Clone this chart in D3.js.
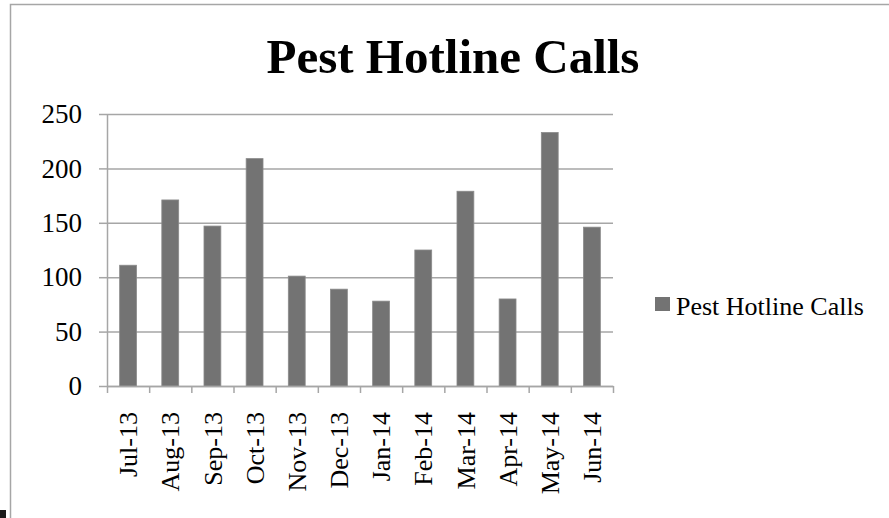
<!DOCTYPE html>
<html>
<head>
<meta charset="utf-8">
<script src="https://cdn.jsdelivr.net/npm/d3@7"></script>
<style>
  body { margin: 0; background: #fff; }
  text { font-family: "Liberation Serif", serif; fill: #000; }
</style>
</head>
<body>
<script>
const months = ['Jul-13', 'Aug-13', 'Sep-13', 'Oct-13', 'Nov-13', 'Dec-13',
  'Jan-14', 'Feb-14', 'Mar-14', 'Apr-14', 'May-14', 'Jun-14']
const calls = [111, 171, 147, 209, 101, 89, 78, 125, 179, 80, 233, 146]
const yTicks = [0, 50, 100, 150, 200, 250]
const seriesName = 'Pest Hotline Calls'

const w = 889
const h = 518
const plot = { left: 107, right: 613, top: 114, bottom: 386 }
const lineColor = '#a6a6a6'
const barColor = '#737373'

const svg = d3.select('body').append('svg')
  .attr('width', w)
  .attr('height', h)

// chart frame (only top and left edges show in the picture)
svg.append('path')
  .attr('d', `M10.5,${h} V4.5 H${w}`)
  .attr('fill', 'none')
  .attr('stroke', lineColor)
  .attr('stroke-width', 1.5)

svg.append('rect')
  .attr('x', 0).attr('y', 510)
  .attr('width', 6).attr('height', 8)
  .attr('fill', '#1a1a1a')

svg.append('text')
  .attr('x', 453)
  .attr('y', 73)
  .attr('text-anchor', 'middle')
  .style('font-size', '49px')
  .style('font-weight', 'bold')
  .text('Pest Hotline Calls')

const x = d3.scaleBand()
  .domain(months)
  .range([plot.left, plot.right])
  .paddingInner(0.6)
  .paddingOuter(0.3)

const xTick = d3.scaleLinear()
  .domain([0, months.length])
  .range([plot.left, plot.right])

const y = d3.scaleLinear()
  .domain([0, 250])
  .range([plot.bottom, plot.top])

// gridlines
svg.append('g')
  .attr('transform', `translate(${plot.left},0)`)
  .call(d3.axisLeft(y).tickValues(yTicks).tickSize(-(plot.right - plot.left)).tickFormat(''))
  .call(g => g.select('.domain').remove())
  .call(g => g.selectAll('line').attr('stroke', lineColor).attr('stroke-width', 1.5))

svg.append('g')
  .selectAll('rect')
  .data(calls)
  .join('rect')
    .attr('x', (d, i) => x(months[i]))
    .attr('y', d => y(d))
    .attr('width', x.bandwidth())
    .attr('height', d => y(0) - y(d))
    .attr('fill', barColor)
    .attr('stroke', '#8a8a8a')
    .attr('stroke-width', 0.8)

// y axis
svg.append('g')
  .attr('transform', `translate(${plot.left},0)`)
  .call(d3.axisLeft(y).tickValues(yTicks).tickSize(8).tickSizeOuter(0).tickPadding(17))
  .call(g => g.select('.domain').attr('stroke', lineColor).attr('stroke-width', 1.5))
  .call(g => g.selectAll('line').attr('stroke', lineColor).attr('stroke-width', 1.5))
  .call(g => g.selectAll('text')
    .style('font-size', '27px')
    .style('font-family', '"Liberation Serif", serif')
    .attr('fill', '#000'))

// x axis ticks on category boundaries
svg.append('g')
  .attr('transform', `translate(0,${plot.bottom})`)
  .call(d3.axisBottom(xTick).ticks(months.length).tickSize(7).tickSizeOuter(0).tickFormat(''))
  .call(g => g.select('.domain').attr('stroke', lineColor).attr('stroke-width', 1.5))
  .call(g => g.selectAll('line').attr('stroke', lineColor).attr('stroke-width', 1.5))

// x labels, rotated
svg.append('g')
  .attr('transform', `translate(0,${plot.bottom})`)
  .call(d3.axisBottom(x).tickSize(0))
  .call(g => g.select('.domain').remove())
  .call(g => g.selectAll('text')
    .attr('transform', 'rotate(-90)')
    .attr('x', -26)
    .attr('y', 0)
    .attr('dy', '0.35em')
    .style('text-anchor', 'end')
    .style('font-size', '26px')
    .style('font-family', '"Liberation Serif", serif')
    .attr('fill', '#000'))

const legend = svg.append('g')
  .attr('transform', 'translate(655,297)')

legend.append('rect')
  .attr('width', 15)
  .attr('height', 14)
  .attr('fill', barColor)

legend.append('text')
  .attr('x', 21)
  .attr('y', 18)
  .style('font-size', '26px')
  .text(seriesName)
</script>
</body>
</html>
